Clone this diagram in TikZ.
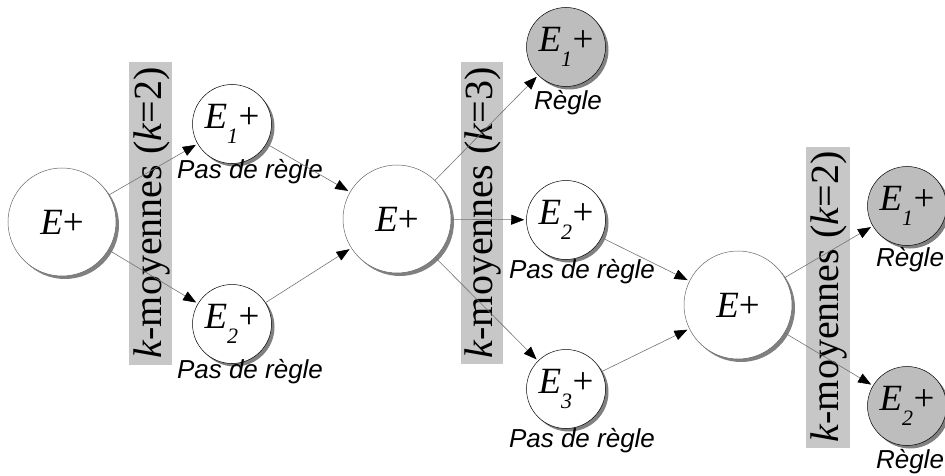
\documentclass[tikz,border=0pt]{standalone}
\usepackage{fontspec}
\setmainfont{Liberation Serif}
\newfontfamily\labfont{Liberation Sans}
\usetikzlibrary{arrows.meta,shadows}

% E+ with an optional italic index
\newcommand{\Eplus}{\textit{E}+}
\newcommand{\Eidx}[1]{\textit{E}\raisebox{-0.42em}{\fontsize{22}{22}\selectfont\textit{#1}}\kern0.5pt+}

\tikzset{
  set/.style={circle, draw=black!60, line width=0.5pt, fill=white, inner sep=0pt,
    font=\fontsize{37}{37}\selectfont,
    drop shadow={shadow xshift=3pt, shadow yshift=-3pt, fill=black!50, opacity=1}},
  bigset/.style={set, minimum size=108pt},
  subset/.style={set, draw=black, minimum size=79pt},
  ruleset/.style={subset, fill=black!26},
  lab/.style={font=\labfont\itshape\fontsize{26}{26}\selectfont, inner sep=0pt},
  bar/.style={fill=black!22, draw=none},
  bartext/.style={rotate=90, font=\fontsize{40}{40}\selectfont, inner sep=0pt},
  arr/.style={draw=black!55, line width=0.6pt, shorten >=2pt,
    -{Triangle[length=13pt,width=10pt,color=black]}}
}

\begin{document}
\begin{tikzpicture}[x=1pt,y=-1pt]
\useasboundingbox (0,0) rectangle (945,476);

% clustering bands
\fill[bar] (129,62) rectangle (172,365);
\node[bartext] (k1) at (152,213) {\textit{k}-moyennes (\textit{k}=2)};
\fill[bar] (461,62) rectangle (503,364);
\node[bartext] (k2) at (483,213) {\textit{k}-moyennes (\textit{k}=3)};
\fill[bar] (806,147) rectangle (850,448);
\node[bartext] (k3) at (829,297) {\textit{k}-moyennes (\textit{k}=2)};

% sets
\node[bigset] (B1) at (62,222) {\Eplus};
\node[subset] (A1) at (232,124) {\Eidx{1}};
\node[subset] (A2) at (232,324) {\Eidx{2}};
\node[bigset] (B2) at (397,219) {\Eplus};
\node[ruleset] (C1) at (566,47) {\Eidx{1}};
\node[subset] (C2) at (566,220) {\Eidx{2}};
\node[subset] (C3) at (566,389) {\Eidx{3}};
\node[bigset] (B3) at (738,305) {\Eplus};
\node[ruleset] (D1) at (907,206) {\Eidx{1}};
\node[ruleset] (D2) at (907,406) {\Eidx{2}};

% labels
\node[lab] (lA1) at (250,172) {Pas de règle};
\node[lab] (lA2) at (250,372) {Pas de règle};
\node[lab] (lC1) at (568,103) {Règle};
\node[lab] (lC2) at (582,272) {Pas de règle};
\node[lab] (lC3) at (582,441) {Pas de règle};
\node[lab] (lD1) at (910,260) {Règle};
\node[lab] (lD2) at (910,462) {Règle};

% connectors
\draw[arr] (B1) -- (A1);
\draw[arr] (B1) -- (A2);
\draw[arr] (A1) -- (B2);
\draw[arr] (A2) -- (B2);
\draw[arr] (B2) -- (C1);
\draw[arr] (B2) -- (C2);
\draw[arr] (B2) -- (C3);
\draw[arr] (C2) -- (B3);
\draw[arr] (C3) -- (B3);
\draw[arr] (B3) -- (D1);
\draw[arr] (B3) -- (D2);
\end{tikzpicture}
\end{document}
